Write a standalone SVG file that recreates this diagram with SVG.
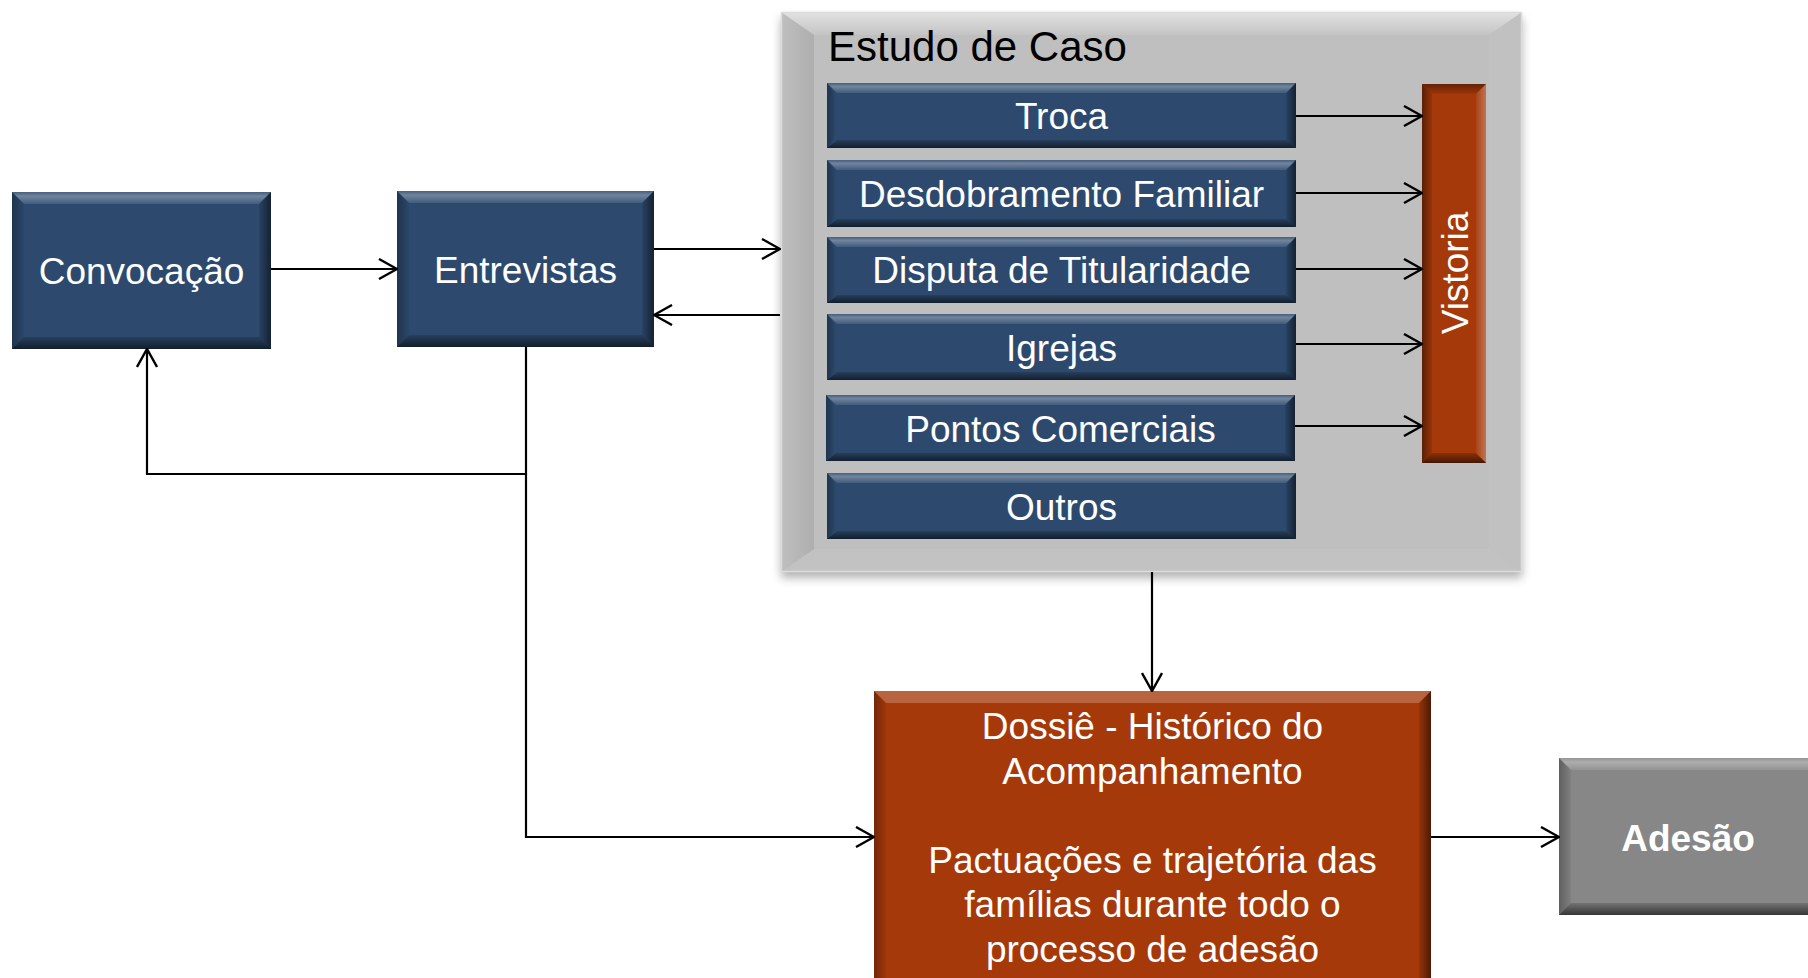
<svg xmlns="http://www.w3.org/2000/svg" width="1808" height="978" viewBox="0 0 1808 978">
<defs>
<style>
text{font-family:"Liberation Sans",Arial,sans-serif;}
.w{fill:#fff;font-size:37px;text-anchor:middle;}
.blue{fill:#2D4A6E;}
.org{fill:#A5390A;}
.gry{fill:#878787;}
.big{fill:#BFBFBF;}
.bt{fill:url(#gTop);}
.bb{fill:url(#gBot);}
.br{fill:url(#gRight);}
.bl{fill:url(#gLeft);}
.ln{fill:none;stroke:#000;stroke-width:2.2;}
.ar{marker-end:url(#ah);}
</style>
<linearGradient id="gTop" x1="0" y1="0" x2="0" y2="1">
<stop offset="0" stop-color="#fff" stop-opacity=".12"/>
<stop offset=".35" stop-color="#fff" stop-opacity=".32"/>
<stop offset="1" stop-color="#fff" stop-opacity=".1"/>
</linearGradient>
<linearGradient id="gBot" x1="0" y1="0" x2="0" y2="1">
<stop offset="0" stop-color="#000" stop-opacity=".15"/>
<stop offset="1" stop-color="#000" stop-opacity=".6"/>
</linearGradient>
<linearGradient id="gRight" x1="0" y1="0" x2="1" y2="0">
<stop offset="0" stop-color="#000" stop-opacity=".1"/>
<stop offset="1" stop-color="#000" stop-opacity=".55"/>
</linearGradient>
<linearGradient id="gLeft" x1="1" y1="0" x2="0" y2="0">
<stop offset="0" stop-color="#000" stop-opacity=".05"/>
<stop offset="1" stop-color="#000" stop-opacity=".3"/>
</linearGradient>
<linearGradient id="gLeftL" x1="1" y1="0" x2="0" y2="0">
<stop offset="0" stop-color="#000" stop-opacity=".1"/>
<stop offset="1" stop-color="#000" stop-opacity=".45"/>
</linearGradient>
<linearGradient id="gRightL" x1="0" y1="0" x2="1" y2="0">
<stop offset="0" stop-color="#fff" stop-opacity=".05"/>
<stop offset="1" stop-color="#fff" stop-opacity=".3"/>
</linearGradient>
<linearGradient id="gTopDark" x1="0" y1="0" x2="0" y2="1">
<stop offset="0" stop-color="#000" stop-opacity=".4"/>
<stop offset="1" stop-color="#000" stop-opacity=".05"/>
</linearGradient>
<linearGradient id="gBigTop" x1="0" y1="0" x2="0" y2="1">
<stop offset="0" stop-color="#fff" stop-opacity=".55"/>
<stop offset="1" stop-color="#fff" stop-opacity=".08"/>
</linearGradient>
<linearGradient id="gBigLeft" x1="0" y1="0" x2="1" y2="0">
<stop offset="0" stop-color="#000" stop-opacity="0"/>
<stop offset="1" stop-color="#000" stop-opacity=".09"/>
</linearGradient>
<filter id="shadow" x="-5%" y="-5%" width="110%" height="115%">
<feDropShadow dx="0" dy="6" stdDeviation="5" flood-color="#000" flood-opacity=".3"/>
</filter>
<marker id="ah" viewBox="0 0 20 22" refX="19" refY="11" markerWidth="20" markerHeight="22" orient="auto" markerUnits="userSpaceOnUse">
<path d="M1,1 L19,11 L1,21" fill="none" stroke="#000" stroke-width="2.4"/>
</marker>
</defs>
<rect width="1808" height="978" fill="#fff"/>

<g id="estudo-de-caso">
<rect x="781" y="12" width="741" height="560" class="big" filter="url(#shadow)"/>
<polygon points="781,12 1522,12 1489,35 814,35" fill="url(#gBigTop)"/>
<polygon points="781,12 814,35 814,549 781,572" fill="url(#gBigLeft)"/>
<polygon points="1522,12 1489,35 1489,549 1522,572" fill="#fff" opacity=".04"/>
<polygon points="781,572 814,549 1489,549 1522,572" fill="#fff" opacity=".05"/>
<rect x="781.5" y="12.5" width="740" height="559" fill="none" stroke="#dcdcdc" stroke-width="1.5"/>
<text x="828" y="61" font-size="42" fill="#000">Estudo de Caso</text>
</g>

<g id="convocacao">
<rect x="12" y="192" width="259" height="157" class="blue"/>
<polygon class="bt" points="12,192 271,192 259,204 24,204"/>
<polygon class="bb" points="12,349 271,349 259,337 24,337"/>
<polygon class="br" points="271,192 271,349 259,337 259,204"/>
<polygon class="bl" points="12,192 12,349 24,337 24,204"/>
<text class="w" x="141.5" y="284">Convocação</text>
</g>

<g id="entrevistas">
<rect x="397" y="191" width="257" height="156" class="blue"/>
<polygon class="bt" points="397,191 654,191 642,203 409,203"/>
<polygon class="bb" points="397,347 654,347 642,335 409,335"/>
<polygon class="br" points="654,191 654,347 642,335 642,203"/>
<polygon class="bl" points="397,191 397,347 409,335 409,203"/>
<text class="w" x="525.5" y="283">Entrevistas</text>
</g>

<g id="troca">
<rect x="827" y="83" width="469" height="65" class="blue"/>
<polygon class="bt" points="827,83 1296,83 1286,93 837,93"/>
<polygon class="bb" points="827,148 1296,148 1286,140 837,140"/>
<polygon class="br" points="1296,83 1296,148 1286,140 1286,93"/>
<polygon class="bl" points="827,83 827,148 835,140 835,93"/>
<text class="w" x="1061.5" y="129">Troca</text>
</g>

<g id="desdobramento-familiar">
<rect x="827" y="160" width="469" height="67" class="blue"/>
<polygon class="bt" points="827,160 1296,160 1286,170 837,170"/>
<polygon class="bb" points="827,227 1296,227 1286,219 837,219"/>
<polygon class="br" points="1296,160 1296,227 1286,219 1286,170"/>
<polygon class="bl" points="827,160 827,227 835,219 835,170"/>
<text class="w" x="1061.5" y="207">Desdobramento Familiar</text>
</g>

<g id="disputa-de-titularidade">
<rect x="827" y="237" width="469" height="66" class="blue"/>
<polygon class="bt" points="827,237 1296,237 1286,247 837,247"/>
<polygon class="bb" points="827,303 1296,303 1286,295 837,295"/>
<polygon class="br" points="1296,237 1296,303 1286,295 1286,247"/>
<polygon class="bl" points="827,237 827,303 835,295 835,247"/>
<text class="w" x="1061.5" y="283">Disputa de Titularidade</text>
</g>

<g id="igrejas">
<rect x="827" y="314" width="469" height="66" class="blue"/>
<polygon class="bt" points="827,314 1296,314 1286,324 837,324"/>
<polygon class="bb" points="827,380 1296,380 1286,372 837,372"/>
<polygon class="br" points="1296,314 1296,380 1286,372 1286,324"/>
<polygon class="bl" points="827,314 827,380 835,372 835,324"/>
<text class="w" x="1061.5" y="360.5">Igrejas</text>
</g>

<g id="pontos-comerciais">
<rect x="826" y="395" width="469" height="66" class="blue"/>
<polygon class="bt" points="826,395 1295,395 1285,405 836,405"/>
<polygon class="bb" points="826,461 1295,461 1285,453 836,453"/>
<polygon class="br" points="1295,395 1295,461 1285,453 1285,405"/>
<polygon class="bl" points="826,395 826,461 834,453 834,405"/>
<text class="w" x="1060.5" y="441.5">Pontos Comerciais</text>
</g>

<g id="outros">
<rect x="827" y="473" width="469" height="66" class="blue"/>
<polygon class="bt" points="827,473 1296,473 1286,483 837,483"/>
<polygon class="bb" points="827,539 1296,539 1286,531 837,531"/>
<polygon class="br" points="1296,473 1296,539 1286,531 1286,483"/>
<polygon class="bl" points="827,473 827,539 835,531 835,483"/>
<text class="w" x="1061.5" y="519.5">Outros</text>
</g>

<g id="vistoria">
<rect x="1422" y="84" width="64" height="379" class="org"/>
<polygon points="1422,84 1486,84 1476,94 1432,94" fill="url(#gTopDark)"/>
<polygon points="1486,84 1486,463 1476,453 1476,94" fill="url(#gRightL)"/>
<polygon points="1422,84 1432,94 1432,453 1422,463" fill="url(#gLeftL)"/>
<polygon class="bb" points="1422,463 1486,463 1476,453 1432,453"/>
<text class="w" transform="translate(1468,273) rotate(-90)" x="0" y="0">Vistoria</text>
</g>

<g id="dossie">
<rect x="874" y="691" width="557" height="300" class="org"/>
<polygon points="874,691 1431,691 1419,703 886,703" fill="#fff" opacity=".22"/>
<polygon class="br" points="1431,691 1431,991 1419,979 1419,703"/>
<polygon class="bl" points="874,691 874,991 886,979 886,703"/>
<text class="w"><tspan x="1152.5" y="739">Dossiê - Histórico do</tspan><tspan x="1152.5" y="783.5">Acompanhamento</tspan><tspan x="1152.5" y="872.5">Pactuações e trajetória das</tspan><tspan x="1152.5" y="917">famílias durante todo o</tspan><tspan x="1152.5" y="961.5">processo de adesão</tspan></text>
</g>

<g id="adesao">
<rect x="1559" y="758" width="262" height="157" class="gry"/>
<polygon class="bt" points="1559,758 1821,758 1809,770 1571,770"/>
<polygon class="bb" points="1559,915 1821,915 1809,903 1571,903"/>
<polygon class="bl" points="1559,758 1559,915 1571,903 1571,770"/>
<text class="w" x="1688" y="851" font-weight="bold">Adesão</text>
</g>

<g id="connectors">
<line class="ln ar" x1="271" y1="269" x2="397" y2="269"/>
<line class="ln ar" x1="654" y1="249" x2="780" y2="249"/>
<line class="ln ar" x1="780" y1="315" x2="654" y2="315"/>
<polyline class="ln ar" points="526,347 526,837 874,837"/>
<polyline class="ln ar" points="526,474 147,474 147,349"/>
<line class="ln ar" x1="1296" y1="116" x2="1422" y2="116"/>
<line class="ln ar" x1="1296" y1="193" x2="1422" y2="193"/>
<line class="ln ar" x1="1296" y1="269" x2="1422" y2="269"/>
<line class="ln ar" x1="1296" y1="344" x2="1422" y2="344"/>
<line class="ln ar" x1="1295" y1="426" x2="1422" y2="426"/>
<line class="ln ar" x1="1152" y1="572" x2="1152" y2="691"/>
<line class="ln ar" x1="1431" y1="837" x2="1559" y2="837"/>
</g>
</svg>
